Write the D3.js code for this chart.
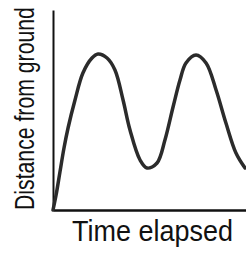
<!DOCTYPE html>
<html>
<head>
<meta charset="utf-8">
<script src="https://cdn.jsdelivr.net/npm/d3@7"></script>
<style>
  body { margin: 0; background: #fff; }
  svg { display: block; }
</style>
</head>
<body>
<div id="chart"></div>
<script>
let width = 246;
let height = 259;

// time elapsed vs distance from ground (arbitrary units)
let timeVals = [0, 0.16, 0.36, 0.57, 0.78, 1.14, 1.55, 2.02, 2.33, 2.8, 3.21, 3.63, 3.99, 4.51, 4.87, 5.39, 5.8, 6.22, 6.58, 6.89, 7.41, 7.93, 8.45, 8.96, 9.48, 9.95];
let distVals = [0, 0.75, 1.9, 3.1, 4.1, 5.5, 6.85, 7.6, 7.8, 7.6, 7.0, 5.5, 4.0, 2.5, 2.1, 2.35, 3.5, 5.15, 6.5, 7.35, 7.75, 7.35, 6.0, 4.35, 2.85, 2.1];
let xTitle = "Time elapsed";
let yTitle = "Distance from ground";

let plotLeft = 53;
let plotRight = 246;
let plotTop = 10;
let plotBottom = 210;

let svg = d3
  .select("#chart")
  .append("svg")
  .attr("width", width)
  .attr("height", height);

let xScale = d3.scaleLinear().domain([0, 10]).range([plotLeft, plotRight]);
let yScale = d3.scaleLinear().domain([0, 10]).range([plotBottom, plotTop]);

let points = timeVals.map(function(t, i) {
  return { t: t, d: distVals[i] };
});

let xAxis = d3.axisBottom(xScale).tickSize(0).tickValues([]).tickSizeOuter(0);
let yAxis = d3.axisLeft(yScale).tickSize(0).tickValues([]).tickSizeOuter(0);

svg
  .append("g")
  .attr("class", "yAxis")
  .attr("transform", "translate(" + plotLeft + ",0)")
  .call(yAxis)
  .select(".domain")
  .attr("stroke", "#111")
  .attr("stroke-width", 2);

svg
  .append("g")
  .attr("class", "xAxis")
  .attr("transform", "translate(0," + plotBottom + ")")
  .call(xAxis)
  .select(".domain")
  .attr("stroke", "#111")
  .attr("stroke-width", 2.5);

let line = d3
  .line()
  .x(function(d) { return xScale(d.t); })
  .y(function(d) { return yScale(d.d); })
  .curve(d3.curveCatmullRom);

svg
  .append("path")
  .datum(points)
  .attr("d", line)
  .attr("fill", "none")
  .attr("stroke", "#2b2b2b")
  .attr("stroke-width", 3.5)
  .attr("stroke-linecap", "round");

// narrow titles: squeeze the glyphs horizontally to the width they take in the scan
function narrowText(txt, fontSize, targetLen, tx, ty, angle) {
  let t = svg
    .append("text")
    .attr("font-family", "'Liberation Sans', Arial, sans-serif")
    .attr("font-size", fontSize)
    .attr("fill", "#111")
    .text(txt);
  let natural = t.node().getComputedTextLength();
  let sx = targetLen / natural;
  t.attr("transform", "translate(" + tx + "," + ty + ")rotate(" + angle + ")scale(" + sx + ",1)");
  return t;
}

narrowText(xTitle, 30, 161, 72, 241, 0);
narrowText(yTitle, 28, 203, 34, 210, -90);
</script>
</body>
</html>
